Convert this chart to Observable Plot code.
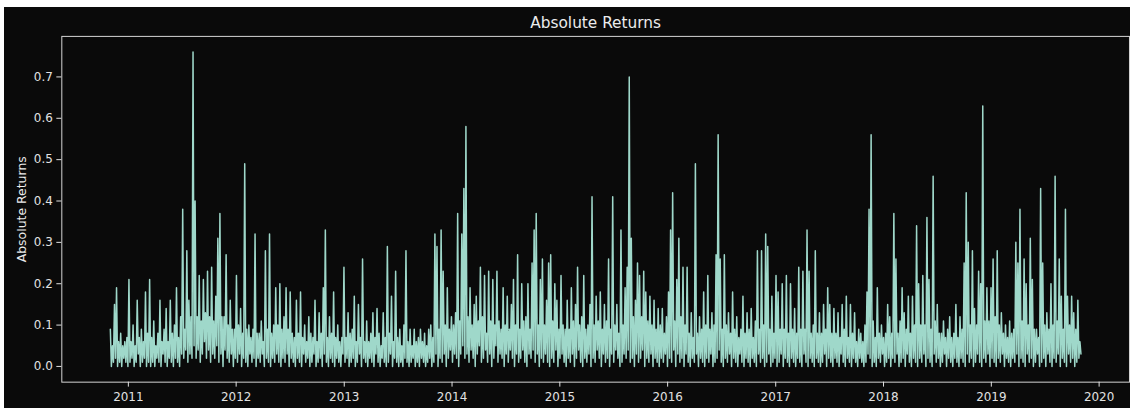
<!DOCTYPE html>
<html><head><meta charset="utf-8">
<script src="https://cdn.jsdelivr.net/npm/d3@7"></script>
<script src="https://cdn.jsdelivr.net/npm/@observablehq/plot@0.6"></script>
<style>
html,body{margin:0;padding:0;background:#ffffff;overflow:hidden;width:1130px;height:409px}
#chart{position:absolute;left:4px;top:7px;background:#0a0a0a}
</style></head><body><div id="chart"></div>
<script>
// ---- data ----
const title = "Absolute Returns";
const yLabel = "Absolute Returns";
const startDate = "2010-11-01";   // first observation
const stepDays = 7;               // one high + one low reading per week
// weekly top of the band (incl. spikes), in hundredths
const weeklyHigh = [
  9,5,15,19,6,8,5,6,7,21,
  6,10,5,16,7,9,6,18,8,21,
  7,11,5,8,16,6,9,14,6,16,
  8,10,19,7,12,38,9,28,16,12,
  76,40,12,22,11,21,13,23,12,24,
  11,17,31,37,12,12,27,10,16,9,
  9,22,10,14,8,49,9,10,7,9,
  32,8,8,11,6,28,9,32,8,10,
  19,10,20,9,12,19,9,18,8,7,
  16,8,18,7,10,6,12,8,7,16,
  6,13,8,19,33,7,12,8,18,7,
  10,6,7,24,7,13,8,9,17,6,
  15,7,26,6,11,6,8,13,7,14,
  8,5,13,7,29,8,17,6,23,7,
  9,5,10,28,6,9,5,9,6,7,
  9,6,8,5,9,10,7,32,29,9,
  33,23,10,19,9,12,10,13,37,11,
  32,43,58,12,19,10,15,17,11,24,
  12,22,8,23,11,21,10,23,11,9,
  19,10,17,9,15,21,10,27,9,20,
  11,12,20,9,25,33,37,10,21,26,
  10,16,25,27,11,20,16,9,22,10,
  9,16,9,19,11,15,24,10,12,22,
  9,10,15,41,10,17,11,18,9,15,
  11,26,9,41,10,15,8,33,10,19,
  24,70,31,12,16,25,22,12,23,18,
  11,17,10,16,9,14,10,14,8,12,
  18,33,42,11,21,31,12,24,10,24,
  8,13,7,49,8,12,9,18,10,22,
  9,13,10,27,56,26,9,27,10,13,
  8,18,9,12,7,9,17,8,13,9,
  14,7,11,28,9,28,10,32,29,9,
  17,8,22,18,9,20,9,22,8,20,
  9,14,8,24,9,23,9,33,23,8,
  10,28,8,13,8,15,9,19,15,8,
  14,8,13,7,15,9,17,7,15,8,
  13,6,9,8,6,10,18,38,56,11,
  7,19,8,10,7,8,15,12,8,37,
  26,8,11,19,13,9,17,8,17,10,
  34,20,10,22,10,36,21,9,46,11,
  15,8,8,11,7,9,12,7,8,15,
  7,12,9,25,42,30,10,28,14,10,
  23,20,63,11,19,11,19,26,12,28,
  10,13,8,10,7,11,8,9,30,25,
  38,11,26,20,10,31,21,9,9,7,
  43,25,10,13,9,20,10,46,11,26,
  17,9,38,17,10,17,13,9,16,6
];
// mid-week bottom of the band, in hundredths
const weeklyLow = [
  0,1,2,0,1,0,2,1,0,1,
  2,0,1,3,0,1,2,0,1,0,
  1,0,2,1,0,3,1,0,2,1,
  0,2,1,0,3,2,4,1,3,2,
  5,2,4,1,3,6,2,4,1,3,
  2,5,1,3,0,4,2,1,3,0,
  2,1,3,0,2,1,0,3,1,2,
  0,2,1,3,0,2,1,0,2,1,
  3,1,0,2,1,3,0,2,1,0,
  2,1,0,3,1,2,0,1,3,0,
  1,2,0,3,1,0,2,1,0,2,
  1,0,3,1,2,0,1,2,0,1,
  3,0,2,1,0,2,1,0,3,1,
  0,2,1,0,1,3,0,2,1,0,
  1,0,2,1,0,1,2,0,1,0,
  2,1,0,1,2,0,1,3,0,2,
  1,3,0,2,4,1,3,2,0,3,
  5,2,3,1,4,2,0,3,5,1,
  2,4,1,3,0,2,5,1,3,2,
  0,3,1,4,2,0,3,1,2,4,
  1,0,3,2,4,1,3,0,2,1,
  3,1,0,2,1,4,0,2,3,1,
  0,2,1,3,0,2,4,1,0,2,
  1,3,0,2,1,4,2,0,3,1,
  2,0,3,1,4,2,0,1,3,2,
  4,1,2,0,3,1,2,4,0,2,
  1,3,0,2,1,0,2,1,3,0,
  2,1,4,0,3,1,2,0,3,1,
  0,2,1,3,0,2,1,0,2,1,
  3,0,1,2,4,1,0,2,1,3,
  0,2,1,0,3,1,0,2,1,0,
  2,1,0,3,1,2,0,1,3,0,
  1,2,0,1,3,0,2,1,0,2,
  1,0,2,1,0,3,1,0,2,1,
  0,2,1,0,1,3,0,2,1,0,
  2,1,0,3,1,0,2,1,0,2,
  1,0,2,1,0,1,3,2,0,1,
  0,2,1,3,0,1,2,0,2,1,
  3,0,1,2,0,3,1,0,2,1,
  0,2,1,3,0,2,1,0,3,1,
  2,0,1,3,0,2,1,0,2,1,
  0,2,1,0,3,1,2,0,1,3,
  1,0,2,1,3,0,2,1,0,2,
  1,3,0,2,1,0,2,1,3,0,
  2,1,0,3,1,2,0,1,3,0,
  1,2,0,3,1,0,2,1,3,0,
  2,1,0,3,1,2,0,1,2,3
];
const yTicks = [0, 0.1, 0.2, 0.3, 0.4, 0.5, 0.6, 0.7];
const xTickYears = [2011, 2012, 2013, 2014, 2015, 2016, 2017, 2018, 2019, 2020];

// ---- build table: high reading at week start, low reading mid-week ----
const t0 = new Date(startDate + "T00:00:00Z").getTime();
const dayMs = 864e5;
const data = [];
weeklyHigh.forEach((h, i) => {
  data.push({date: new Date(t0 + i * stepDays * dayMs), value: h / 100});
  data.push({date: new Date(t0 + (i * stepDays + stepDays / 2) * dayMs), value: weeklyLow[i] / 100});
});
const xTicks = xTickYears.map(y => new Date(Date.UTC(y, 0, 1)));

// matplotlib-like 5% margins
const xMin = data[0].date, xMax = data[data.length - 1].date;
const xPad = (xMax - xMin) * 0.05;
const vMax = d3.max(data, d => d.value);
const yPad = vMax * 0.05;

const chart = Plot.plot({
  width: 1130,
  height: 402,
  marginTop: 29,
  marginBottom: 26,
  marginLeft: 57.5,
  marginRight: 1,
  style: {background: "#0a0a0a", color: "#e2e2e2", fontFamily: "'DejaVu Sans', sans-serif", fontSize: "12px"},
  x: {type: "utc", domain: [new Date(+xMin - xPad), new Date(+xMax + xPad)]},
  y: {domain: [-yPad, vMax + yPad]},
  marks: [
    Plot.frame({stroke: "#d6d6d6", strokeWidth: 1}),
    Plot.lineY(data, {x: "date", y: "value", stroke: "#9fd8ca", strokeWidth: 1.5}),
    Plot.axisX({ticks: xTicks, tickFormat: d3.utcFormat("%Y"), tickSize: 5, tickPadding: 5, label: null, fontSize: 12}),
    Plot.axisY({ticks: yTicks, tickFormat: d3.format(".1f"), tickSize: 5, tickPadding: 4, label: null, fontSize: 12}),
    Plot.text([title], {text: d => d, frameAnchor: "top", lineAnchor: "middle", dy: -13.5, fontSize: 15.4, fill: "#ececec"}),
    Plot.text([yLabel], {text: d => d, frameAnchor: "left", textAnchor: "middle", lineAnchor: "middle", dx: -40, rotate: -90, fontSize: 12.5, fill: "#ececec"})
  ]
});
document.getElementById("chart").appendChild(chart);
</script>
</body></html>
